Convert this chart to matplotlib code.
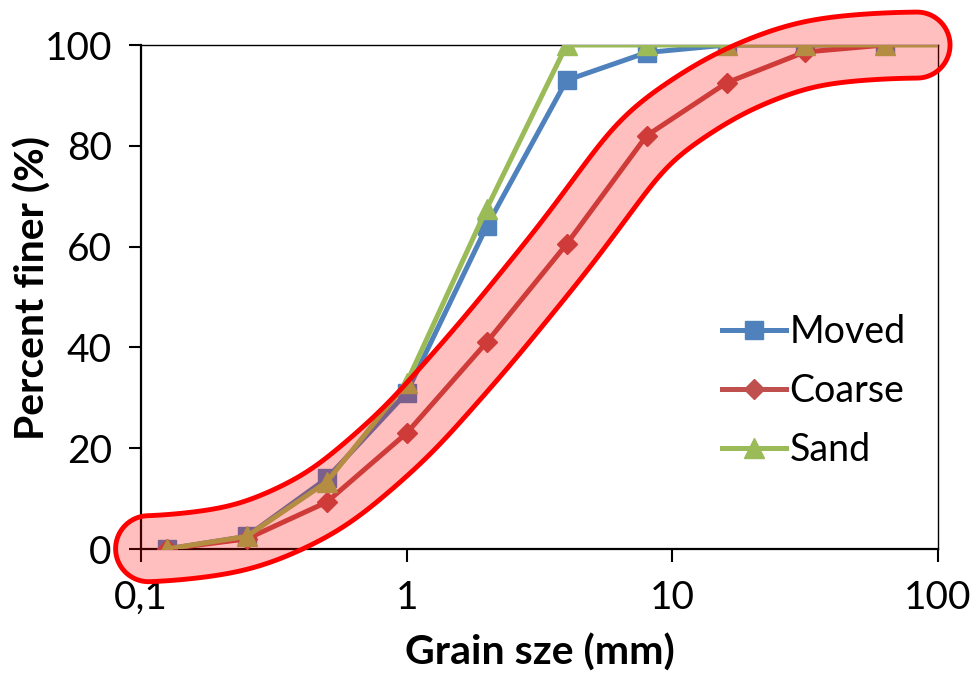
import numpy as np
import matplotlib
matplotlib.use("Agg")
import matplotlib.pyplot as plt
from matplotlib.patches import Polygon

# --- Data ---
sizes = [0.125, 0.25, 0.5, 1, 2, 4, 8, 16, 31.5, 63]
moved = [0, 2.5, 14, 31, 64, 93, 98.5, 100, 100, 100]
coarse = [0, 2, 9.3, 23, 41, 60.5, 82, 92.5, 98.6, 100]
sand_sizes = [0.125, 0.25, 0.5, 1, 2, 4, 8, 16, 31.5, 63, 125]
sand = [0, 2.5, 13.3, 33, 67.5, 100, 100, 100, 100, 100, 100]

xticks = [0.1, 1, 10, 100]
xticklabels = ["0,1", "1", "10", "100"]
yticks = [0, 20, 40, 60, 80, 100]

plt.rcParams['font.family'] = ['Lato', 'DejaVu Sans']

blue = '#4F81BD'
red = '#C0504D'
green = '#9BBB59'

fig = plt.figure(figsize=(9.73, 6.78), dpi=100)
ax = fig.add_axes([141/973, 1 - 549/678, (938-141)/973, (549-45)/678])

ax.plot(sizes, moved, color=blue, lw=3.6, marker='s', ms=13, label='Moved', zorder=3)
ax.plot(sizes, coarse, color=red, lw=3.6, marker='D', ms=10, label='Coarse', zorder=3)
ax.plot(sand_sizes, sand, color=green, lw=3.6, marker='^', ms=14, label='Sand', zorder=3)

ax.set_xscale('log')
ax.set_xlim(0.1, 100)
ax.set_ylim(0, 100)
ax.set_xticks(xticks)
ax.set_xticklabels(xticklabels)
ax.set_yticks(yticks)
ax.minorticks_off()
ax.tick_params(axis='both', labelsize=28, length=9, width=1.5, direction='out')
ax.tick_params(axis='y', pad=12)
ax.tick_params(axis='x', pad=13)

for s in ['left', 'bottom']:
    ax.spines[s].set_linewidth(1.6)
for s in ['top', 'right']:
    ax.spines[s].set_linewidth(1.0)

ax.set_xlabel("Grain sze (mm)", fontsize=29.5, fontweight='bold')
ax.set_ylabel("Percent finer (%)", fontsize=29.5, fontweight='bold')
ax.xaxis.set_label_coords(0.5, -0.168)
ax.yaxis.set_label_coords(-0.112, 0.518)

leg = ax.legend(loc='center left', bbox_to_anchor=(0.71, 0.313), frameon=False,
                fontsize=27, handlelength=1.7, handletextpad=0.1, labelspacing=0.62,
                borderaxespad=0)

# --- Highlight envelope around the coarse curve (built in pixel space) ---
half_w = 33       # px
ext_left = 30     # px
ext_right = 45    # px
pts = ax.transData.transform(np.column_stack([sizes, coarse]))
pts = np.vstack([pts[0] - [ext_left, 0], pts, pts[-1] + [ext_right, 0]])
seg = np.hypot(*np.diff(pts, axis=0).T)
arc = np.concatenate([[0], np.cumsum(seg)])
t = np.arange(0, arc[-1], 1.0)
cx = np.interp(t, arc, pts[:, 0])
cy = np.interp(t, arc, pts[:, 1])
sig = 30
k = np.exp(-0.5 * (np.arange(-3*sig, 3*sig + 1) / sig) ** 2)
k /= k.sum()
pad = 3 * sig
cx = np.convolve(np.pad(cx, pad, mode='edge'), k, mode='valid')
cy = np.convolve(np.pad(cy, pad, mode='edge'), k, mode='valid')
tx, ty = np.gradient(cx), np.gradient(cy)
nrm = np.hypot(tx, ty)
nx, ny = -ty / nrm, tx / nrm
upper = np.column_stack([cx + half_w*nx, cy + half_w*ny])
lower = np.column_stack([cx - half_w*nx, cy - half_w*ny])
a_end = np.arctan2(ny[-1], nx[-1])
ang = np.linspace(a_end, a_end - np.pi, 40)
cap_r = np.column_stack([cx[-1] + half_w*np.cos(ang), cy[-1] + half_w*np.sin(ang)])
a_start = np.arctan2(-ny[0], -nx[0])
ang = np.linspace(a_start, a_start - np.pi, 40)
cap_l = np.column_stack([cx[0] + half_w*np.cos(ang), cy[0] + half_w*np.sin(ang)])
poly = np.vstack([upper, cap_r, lower[::-1], cap_l])
poly = ax.transData.inverted().transform(poly)
ax.add_patch(Polygon(poly, closed=True, facecolor=(1, 0, 0, 0.25), edgecolor='red',
                     lw=3.5, zorder=5, clip_on=False))

fig.savefig("out.png", dpi=100)
